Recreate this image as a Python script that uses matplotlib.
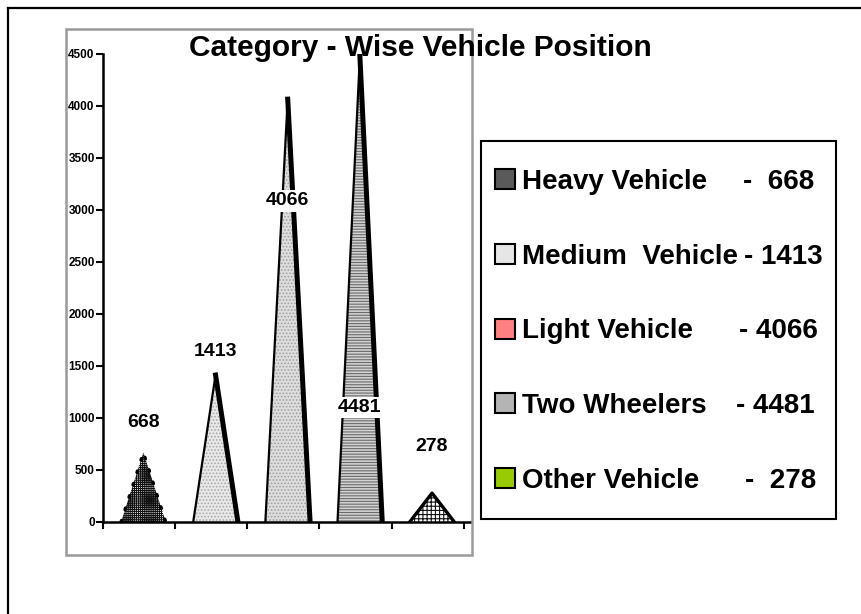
import matplotlib
matplotlib.use('Agg')
import matplotlib.pyplot as plt
from matplotlib.patches import Polygon, Rectangle
from matplotlib.lines import Line2D

# data
categories = ['Heavy Vehicle', 'Medium  Vehicle', 'Light Vehicle', 'Two Wheelers', 'Other Vehicle']
counts = [668, 1413, 4066, 4481, 278]
y_ticks = [0, 500, 1000, 1500, 2000, 2500, 3000, 3500, 4000, 4500]
title = 'Category - Wise Vehicle Position'

# styles (face, hatch colour, hatch) for the pyramids and legend keys
face_colors = ['white', '#e9e9e9', '#dedede', '#d2d2d2', 'white']
hatch_colors = ['#111111', '#a8a8a8', '#a0a0a0', '#6a6a6a', '#111111']
hatches = ['++++++++', '.....', '.....', '------', '++++']
key_colors = ['#5a5a5a', '#e6e6e6', '#ff8080', '#b4b4b4', '#99cc00']

# label placement (data y of each value label) and legend value right edges (px)
label_y = [960, 1635, 3087, 1100, 730]
value_right = [814, 823, 818, 815, 816]

W, H = 861, 614
plt.rcParams['font.family'] = ['Liberation Sans', 'DejaVu Sans']
plt.rcParams['font.weight'] = 'bold'
plt.rcParams['hatch.linewidth'] = 0.8


def fx(px):
    return px / W


def fy(py):
    return 1 - py / H


fig = plt.figure(figsize=(W / 100, H / 100), dpi=100)

# outer black frame, it runs off the right and bottom edges
fig.add_artist(Line2D([fx(8), 1], [fy(8), fy(8)], color='black', lw=1.6))
fig.add_artist(Line2D([fx(8), fx(8)], [fy(8), 0], color='black', lw=1.6))

# grey plot-area frame
fig.add_artist(Rectangle((fx(66), fy(555)), fx(472) - fx(66), fy(29) - fy(555),
                         fill=False, edgecolor='#9a9a9a', lw=1.8))

ax = fig.add_axes([fx(103), fy(522), fx(471) - fx(103), fy(54) - fy(522)])
ax.set_xlim(0, 5.1)
ax.set_ylim(0, 4500)
ax.patch.set_alpha(0)

for i, v in enumerate(counts):
    c = i + 0.56
    hw = 0.31
    pts = [(c - hw, 0), (c, v), (c + hw, 0)]
    ax.add_patch(Polygon(pts, closed=True, facecolor=face_colors[i],
                         edgecolor=hatch_colors[i], lw=0, hatch=hatches[i]))
    if i == 0:
        ax.plot([c - hw, c, c + hw], [0, v, 0], color='black', lw=2.4,
                ls=(0, (0.5, 3.4)), dash_capstyle='round')
    elif i == 4:
        ax.plot([c - hw, c, c + hw], [0, v, 0], color='black', lw=2.4)
    else:
        ax.plot([c - hw, c], [0, v], color='black', lw=1.6)
        ax.plot([c, c + hw], [v, 0], color='black', lw=3.6)

    box = None
    if i in (2, 3):
        box = dict(facecolor='white', edgecolor='none', pad=1.5)
    ax.text(c, label_y[i], str(v), ha='center', va='center', fontsize=14,
            fontweight='bold', bbox=box)

for s in ['top', 'right']:
    ax.spines[s].set_visible(False)
for s in ['left', 'bottom']:
    ax.spines[s].set_linewidth(1.8)

ax.set_xticks(range(6))
ax.set_xticklabels([])
ax.set_yticks(y_ticks)
ax.set_yticklabels([str(t) for t in y_ticks], fontsize=8.5, fontweight='bold')
ax.tick_params(direction='out', length=5, width=1.5, pad=1)

fig.text(fx(420), fy(56), title, ha='center', va='baseline', fontsize=21.5,
         fontweight='bold')

# legend box drawn by hand
fig.add_artist(Rectangle((fx(481), fy(519)), fx(836) - fx(481), fy(141) - fy(519),
                         fill=False, edgecolor='black', lw=1.5))
for i, (name, v) in enumerate(zip(categories, counts)):
    base = 189 + i * 74.75
    fig.add_artist(Rectangle((fx(495), fy(base)), fx(515) - fx(495), fy(base - 20) - fy(base),
                             facecolor=key_colors[i], edgecolor='black', lw=1.5))
    fig.text(fx(522), fy(base), name, ha='left', va='baseline', fontsize=20,
             fontweight='bold')
    val = '- ' + (' ' if v < 1000 else '') + str(v)
    fig.text(fx(value_right[i]), fy(base), val, ha='right', va='baseline',
             fontsize=20, fontweight='bold')

fig.savefig('out.png', dpi=100)
